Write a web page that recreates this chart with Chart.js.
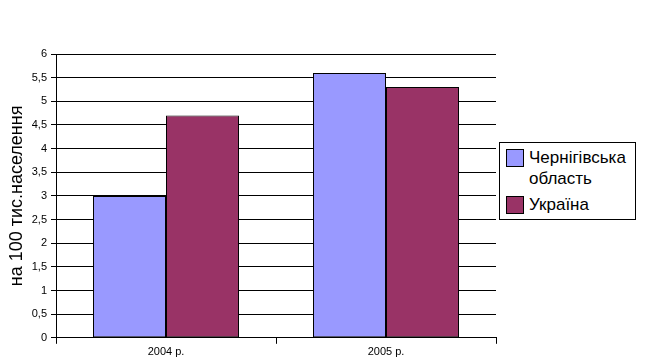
<!DOCTYPE html>
<html>
<head>
<meta charset="utf-8">
<script src="https://cdn.jsdelivr.net/npm/chart.js@4/dist/chart.umd.min.js"></script>
<style>
  html, body { margin: 0; padding: 0; background: #fff; }
  #wrap { position: relative; width: 652px; height: 363px; }
  #legend {
    position: absolute; left: 499px; top: 142px; width: 137px; height: 78px;
    border: 1px solid #000; box-sizing: border-box; background: #fff;
    font-family: "Liberation Sans", Arial, sans-serif; font-size: 17px; color: #000;
  }
  .item { position: absolute; left: 6px; display: flex; align-items: flex-start; line-height: 21px; }
  .sw { width: 18px; height: 18px; border: 1px solid #000; box-sizing: border-box; margin-right: 5px; margin-top: 2px; }
</style>
</head>
<body>
<div id="wrap">
  <canvas id="chart" width="652" height="363"></canvas>
  <div id="legend"></div>
</div>
<script>
const categories = ['2004 р.', '2005 р.'];
const seriesNames = [['Чернігівська', 'область'], ['Україна']];
const chernihiv = [3.0, 5.6];
const ukraine = [4.7, 5.3];
const colors = ['#9999FF', '#993366'];

const barStyle = {
    borderColor: '#000',
    borderWidth: 1,
    borderSkipped: false,
    categoryPercentage: 0.6636,
    barPercentage: 1.0
};

const ctx = document.getElementById('chart').getContext('2d');
const chart = new Chart(ctx, {
    type: 'bar',
    data: {
        labels: categories,
        datasets: [
            Object.assign({ label: seriesNames[0].join(' '), data: chernihiv, backgroundColor: colors[0] }, barStyle),
            Object.assign({ label: seriesNames[1].join(' '), data: ukraine, backgroundColor: colors[1] }, barStyle)
        ]
    },
    options: {
        responsive: false,
        animation: false,
        layout: { padding: { top: 54, right: 156, left: 0, bottom: 2 } },
        plugins: { legend: { display: false }, tooltip: { enabled: false } },
        scales: {
            x: {
                grid: { drawOnChartArea: false, color: '#000', tickLength: 6, offset: true },
                border: { color: '#000' },
                ticks: { color: '#000', font: { family: 'Liberation Sans', size: 11 }, padding: 2 }
            },
            y: {
                min: 0,
                max: 6,
                afterFit: s => { s.width = 56; },
                grid: { color: '#000', tickLength: 5 },
                border: { color: '#000' },
                ticks: {
                    stepSize: 0.5,
                    color: '#000',
                    padding: 4,
                    font: { family: 'Liberation Sans', size: 11 },
                    callback: v => String(v).replace('.', ',')
                },
                title: {
                    display: true,
                    text: 'на 100 тис.населення',
                    color: '#000',
                    font: { family: 'Liberation Sans', size: 18 },
                    padding: { top: 6, bottom: 0 }
                }
            }
        }
    }
});

const legend = document.getElementById('legend');
seriesNames.forEach((name, i) => {
    const item = document.createElement('div');
    item.className = 'item';
    item.style.top = (i === 0 ? 4 : 51) + 'px';
    item.innerHTML = '<div class="sw" style="background:' + colors[i] + '"></div><div>' + name.join('<br>') + '</div>';
    legend.appendChild(item);
});
</script>
</body>
</html>
